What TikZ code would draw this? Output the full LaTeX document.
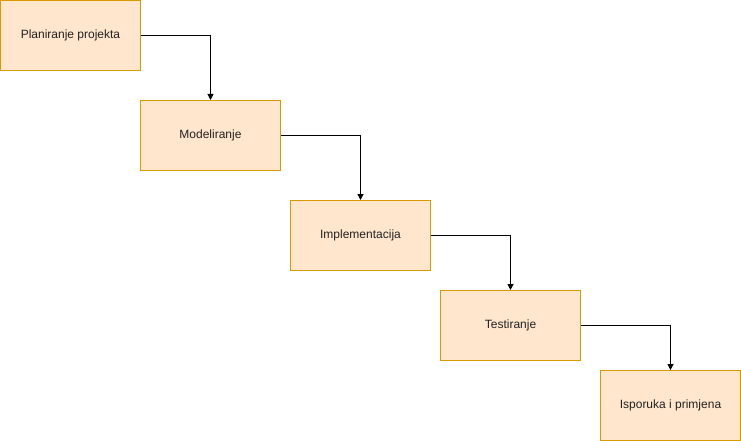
\documentclass[tikz,border=0pt]{standalone}
\usepackage{fontspec}
\setmainfont{Liberation Sans}
\usetikzlibrary{arrows.meta}
\definecolor{boxfill}{HTML}{FFE6CC}
\definecolor{boxline}{HTML}{D79B00}
\definecolor{txt}{HTML}{222222}
\tikzset{
  stepbox/.style={draw=boxline, fill=boxfill, line width=1pt, minimum width=140pt, minimum height=70pt, inner sep=0pt, font=\fontsize{12}{14}\selectfont, text=txt},
  conn/.style={draw=black, line width=1pt, -{Triangle[length=6pt,width=6pt]}}
}
\begin{document}
\begin{tikzpicture}[x=1pt,y=-1pt]
\useasboundingbox (0,0) rectangle (741,441);
\node[stepbox] (a) at (70.5,35.5) {Planiranje projekta};
\node[stepbox] (b) at (210.5,135.5) {Modeliranje};
\node[stepbox] (c) at (360.5,235.5) {Implementacija};
\node[stepbox] (d) at (510.5,325.5) {Testiranje};
\node[stepbox] (e) at (670.5,405.5) {Isporuka i primjena};
\draw[conn] (a.east) -| (b.north);
\draw[conn] (b.east) -| (c.north);
\draw[conn] (c.east) -| (d.north);
\draw[conn] (d.east) -| (e.north);
\end{tikzpicture}
\end{document}
